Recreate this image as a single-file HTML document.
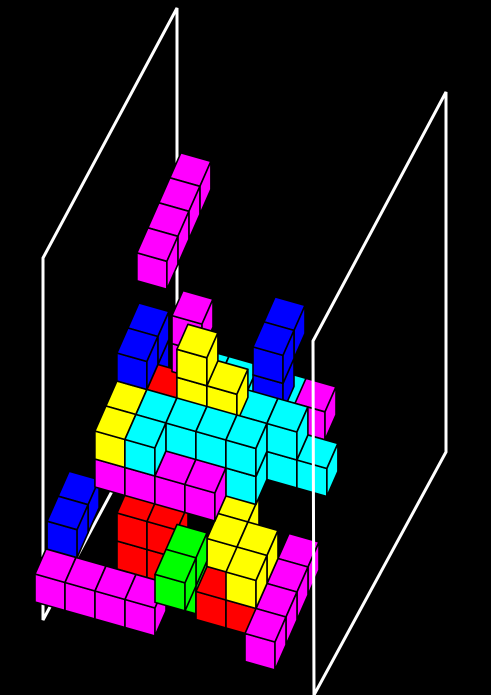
<!DOCTYPE html>
<html><head><meta charset="utf-8"><style>
html,body{margin:0;padding:0;background:#000;}
svg{display:block;}
</style></head><body>
<svg id="scene" width="491" height="695" viewBox="0 0 491 695" xmlns="http://www.w3.org/2000/svg">
<rect x="0" y="0" width="491" height="695" fill="#000"/>
<g id="backWall" fill="none" stroke="#fff" stroke-width="3">
<polygon points="43,258 177,8 177,370 43,620"/>
</g>
<g id="cubes"></g>
<g id="frontWall" fill="none" stroke="#fff" stroke-width="3">
<polygon points="313,341 446,92 446,452 314,695"/>
</g>
</svg>
<script>
// piece data: grid anchors (well units) and cell offsets
const pieceNames = ["magenta-front-row","blue-left-bottom","red-bottom","green-bottom","red-bottom-right","yellow-bottom","magenta-right-bottom","magenta-middle-row","yellow-middle-left","cyan-middle","yellow-upper","red-middle","blue-upper-left","magenta-upper","blue-upper-right","magenta-middle-right","magenta-falling"];
const pieceColors = ["#ff00ff","#0000ff","#ff0000","#00ff00","#ff0000","#ffff00","#ff00ff","#ff00ff","#ffff00","#00ffff","#ffff00","#ff0000","#0000ff","#ff00ff","#0000ff","#ff00ff","#ff00ff"];
const M = [1.63,3.71,1];
const pieceAnchors = [[0,0,0],[-0.33,0,2],[2,0,2],[4,0.2,1],[5,0,1],[6,1,1],[7,0,0],M,M,M,[1.63,3.45,1],M,M,[2.1,3.6,1],[1.8,3.3,1],[1.2,3.71,1],[3.03,11.5,1]];
const pieceCells = [
 [[0,0,0],[1,0,0],[2,0,0],[3,0,0]],
 [[0,0,0],[0,0,1]],
 [[0,0,0],[0,1,0],[1,0,0],[1,1,0]],
 [[0,0,0],[0,1,0],[0,1,-1]],
 [[0,0,0],[1,0,0],[0,0,1],[1,0,1]],
 [[0,0,0],[-1,0,1],[0,0,1],[-1,0,2]],
 [[0,0,0],[0,0,1],[0,0,2],[0,0,3]],
 [[0,0,0],[1,0,0],[2,0,0],[3,0,0]],
 [[0,1,0],[0,1,1]],
 [[1,1,0],[1,1,1],[2,1,1],[3,1,1],[4,0,1],[4,1,1],[2,1,2],[3,0,2],[4,1,2],[5,0,2],[5,1,2],[6,0,2],[2,1,3],[3,1,3],[4,0,3],[5,1,3]],
 [[3,1,2],[3,2,2],[2,2,2],[2,3,2]],
 [[1,1,2]],
 [[0,1,2],[0,2,2],[0,2,3],[0,1,3]],
 [[1,2,3],[1,3,3]],
 [[4,1,3],[4,2,3],[4,3,3],[4,3,4]],
 [[6,1,3]],
 [[0,0,0],[0,0,1],[0,0,2],[0,0,3]]
];

function proj(X,Y,Z){ return [35+30*X+11*Z, 602+8.5*X-28*Y-25*Z]; }
function pts(arr){ return arr.map(p=>{const q=proj(p[0],p[1],p[2]);return q[0].toFixed(1)+","+q[1].toFixed(1);}).join(" "); }

const cubes=[];
pieceCells.forEach((cells,i)=>{
  const a=pieceAnchors[i];
  cells.forEach(c=>{
    cubes.push({x:a[0]+c[0],y:a[1]+c[1],z:a[2]+c[2],color:pieceColors[i],piece:pieceNames[i]});
  });
});
cubes.sort((A,B)=>(0.4*A.x+1.01*A.y-A.z)-(0.4*B.x+1.01*B.y-B.z));

const NS="http://www.w3.org/2000/svg";
const layer=document.getElementById("cubes");
cubes.forEach(c=>{
  const g=document.createElementNS(NS,"g");
  
  
  const X=c.x,Y=c.y,Z=c.z;
  const faces=[
    [[X,Y,Z],[X+1,Y,Z],[X+1,Y+1,Z],[X,Y+1,Z]],
    [[X,Y+1,Z],[X+1,Y+1,Z],[X+1,Y+1,Z+1],[X,Y+1,Z+1]],
    [[X+1,Y,Z],[X+1,Y,Z+1],[X+1,Y+1,Z+1],[X+1,Y+1,Z]]
  ];
  faces.forEach(f=>{
    const p=document.createElementNS(NS,"polygon");
    p.setAttribute("points",pts(f));
    p.setAttribute("fill",c.color);
    p.setAttribute("stroke","#000");
    p.setAttribute("stroke-width","1.6");
    p.setAttribute("stroke-linejoin","round");
    g.appendChild(p);
  });
  layer.appendChild(g);
});
</script>
</body></html>
